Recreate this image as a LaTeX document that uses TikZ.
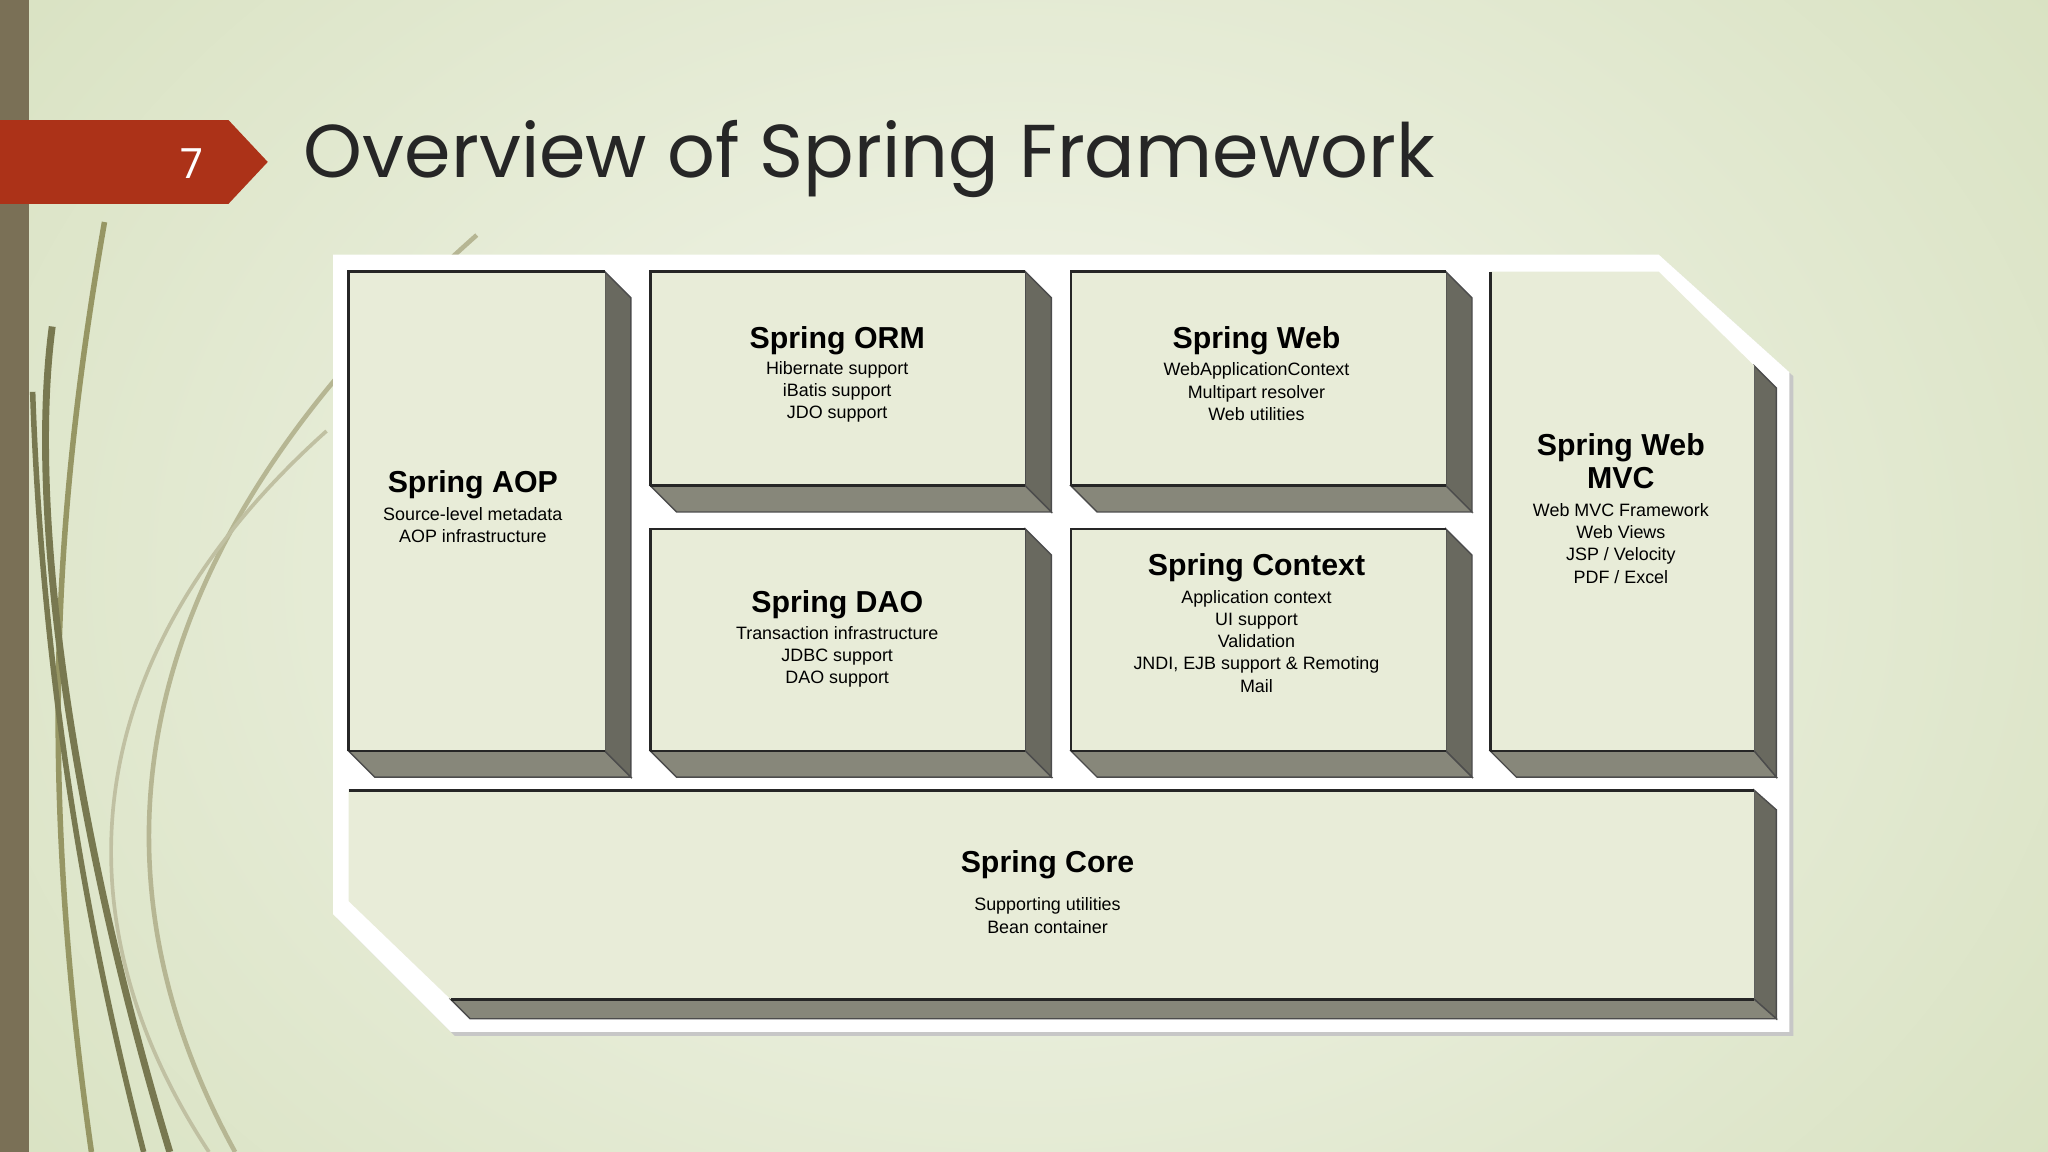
\documentclass[tikz,border=0pt]{standalone}
\usepackage{fontspec}
\setmainfont{Liberation Sans}
\newfontfamily\titlefont{Poppins}
\begin{document}
\begin{tikzpicture}[x=0.01cm,y=-0.01cm,
  front/.style={fill=boxfill},
  edge/.style={draw=black!85,line width=0.6pt},
  rside/.style={draw=black!70,line width=0.3pt,fill=sidedark},
  bside/.style={draw=black!70,line width=0.3pt,fill=sidemid},
  ttl/.style={font=\bfseries\fontsize{6.6}{7.6}\selectfont,align=center,inner sep=0},
  sub/.style={font=\fontsize{3.9}{4.85}\selectfont,align=center,inner sep=0}]
\definecolor{bgout}{RGB}{214,224,190}
\definecolor{bgin}{RGB}{244,246,236}
\definecolor{boxfill}{RGB}{232,236,216}
\definecolor{sidedark}{RGB}{105,105,95}
\definecolor{sidemid}{RGB}{135,135,122}
\definecolor{bar}{RGB}{122,112,86}
\definecolor{banner}{RGB}{172,50,24}
\definecolor{curve}{RGB}{150,150,100}
\useasboundingbox (0,0) rectangle (1568,882);
\shade[inner color=bgin,outer color=bgout] (-300,-400) rectangle (1868,1282);
\fill[bar] (0,0) rectangle (22,882);
% decorative curves
\draw[curve,line width=1.2pt] (70,882) .. controls (30,600) and (40,400) .. (80,170);
\draw[curve!80!black,line width=1.5pt] (130,882) .. controls (60,650) and (20,400) .. (40,250);
\draw[curve!70,line width=1pt] (180,882) .. controls (80,700) and (60,450) .. (365,180);
\draw[curve!60,line width=0.8pt] (160,882) .. controls (40,700) and (60,500) .. (250,330);
\draw[curve!80!black,line width=1.2pt] (110,882) .. controls (50,650) and (30,450) .. (25,300);
\fill[banner] (0,92) -- (175,92) -- (205,124) -- (175,156) -- (0,156) -- cycle;
\node[text=white,font=\titlefont\fontsize{9}{10}\selectfont] (num) at (147,125) {7};
\node[anchor=west,text=black!85,font=\titlefont\fontsize{16.3}{19}\selectfont,inner sep=0] (title) at (232,122) {Overview of Spring Framework};
% outer white shape
\fill[black!22] (258,198) -- (1273,198) -- (1373,288) -- (1373,793) -- (348,793) -- (258,703) -- cycle;
\fill[white] (255,195) -- (1270,195) -- (1370,285) -- (1370,790) -- (345,790) -- (255,700) -- cycle;
% boxes: x1,y1,x2,y2
\foreach \xa/\ya/\xb/\yb in {267/208/463/575, 498/208/785/372, 820/208/1107/372, 498/405/785/575, 820/405/1107/575}{
  \draw[rside] (\xb,\ya) -- (\xb+20,\ya+20) -- (\xb+20,\yb+20) -- (\xb,\yb) -- cycle;
  \draw[bside] (\xa,\yb) -- (\xb,\yb) -- (\xb+20,\yb+20) -- (\xa+20,\yb+20) -- cycle;
  \fill[front] (\xa,\ya) rectangle (\xb,\yb);
  \draw[edge] (\xa,\yb) -- (\xa,\ya) -- (\xb,\ya);
  \draw[edge] (\xa,\yb) -- (\xb,\yb);
}
% MVC
\draw[rside] (1343,280) -- (1360,297) -- (1360,595) -- (1343,575) -- cycle;
\draw[bside] (1141,575) -- (1343,575) -- (1360,595) -- (1161,595) -- cycle;
\fill[front] (1141,208) -- (1270,208) -- (1343,280) -- (1343,575) -- (1141,575) -- cycle;
\draw[edge] (1141,575) -- (1141,208);
\draw[edge] (1141,575) -- (1343,575);
% core
\draw[rside] (1343,605) -- (1360,620) -- (1360,780) -- (1343,765) -- cycle;
\draw[bside] (345,765) -- (1343,765) -- (1360,780) -- (360,780) -- cycle;
\fill[front] (267,605) -- (1343,605) -- (1343,765) -- (345,765) -- (267,690) -- cycle;
\draw[edge] (267,605) -- (1343,605);
\draw[edge] (345,765) -- (1343,765);
% texts
\node[ttl] (aopt) at (362,371) {Spring AOP};
\node[sub] (aops) at (362,402) {Source-level metadata\\AOP infrastructure};
\node[ttl] (ormt) at (641,261) {Spring ORM};
\node[sub] (orms) at (641,300) {Hibernate support\\iBatis support\\JDO support};
\node[ttl] (webt) at (962,261) {Spring Web};
\node[sub] (webs) at (962,300) {WebApplicationContext\\Multipart resolver\\Web utilities};
\node[ttl] (daot) at (641,463) {Spring DAO};
\node[sub] (daos) at (641,503) {Transaction infrastructure\\JDBC support\\DAO support};
\node[ttl] (ctxt) at (962,435) {Spring Context};
\node[sub] (ctxs) at (962,491) {Application context\\UI support\\Validation\\JNDI, EJB support \& Remoting\\Mail};
\node[ttl] (mvct) at (1241,353) {Spring Web\\[-0.3pt]MVC};
\node[sub] (mvcs) at (1241,416) {Web MVC Framework\\Web Views\\JSP / Velocity\\PDF / Excel};
\node[ttl] (coret) at (802,662) {Spring Core};
\node[sub] (cores) at (802,701) {Supporting utilities\\Bean container};
\end{tikzpicture}
\end{document}
